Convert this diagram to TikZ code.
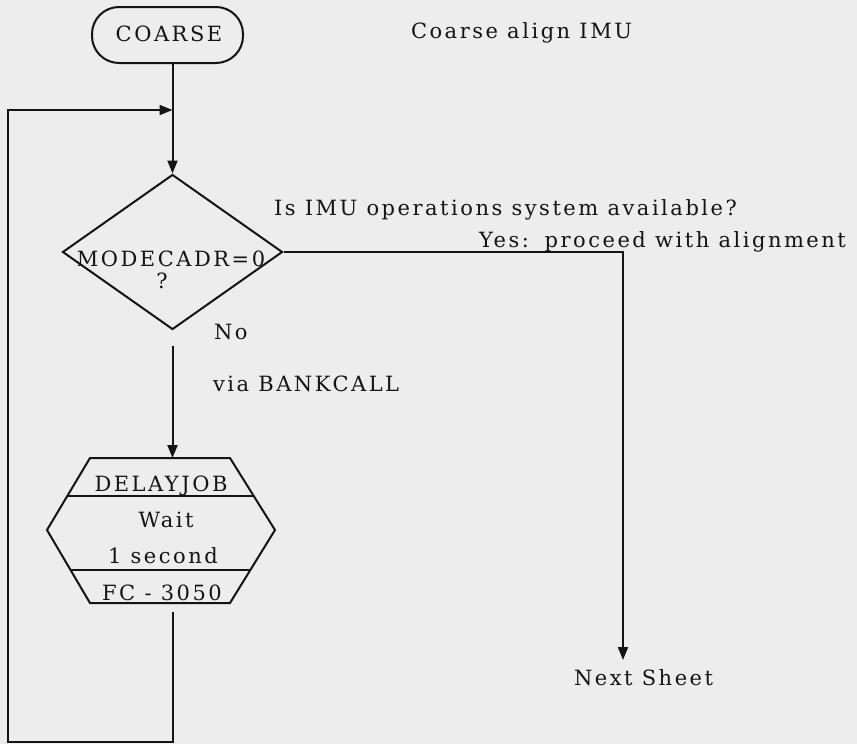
\documentclass[tikz,border=0pt]{standalone}
\usepackage{fontspec}
\setmainfont{DejaVu Serif}[LetterSpace=12]
\usetikzlibrary{arrows.meta,calc,shapes.geometric}
\definecolor{paper}{HTML}{EDEDED}
\definecolor{ink}{HTML}{141414}
\begin{document}
\begin{tikzpicture}[x=1pt,y=-1pt,
  line width=2pt, draw=ink, text=ink,
  arr/.style={-{Triangle[length=13pt,width=10pt]}},
  txt/.style={inner sep=0pt, anchor=base west, font=\fontsize{21}{24}\selectfont},
  ctxt/.style={inner sep=0pt, anchor=base, font=\fontsize{21}{24}\selectfont}]
  % page
  \fill[paper] (0,0) rectangle (857,744);
  \useasboundingbox (0,0) rectangle (857,744);

  % terminal
  \node[draw, rounded corners=27pt, minimum width=151pt, minimum height=56pt,
        inner sep=0pt] (coarse) at (167.5,35) {};
  \node[ctxt] (coarseTxt) at (169,41) {COARSE};
  \node[txt] (title) at (410,38) {Coarse align IMU};

  % decision
  \node[diamond, draw, minimum width=220pt, minimum height=155pt,
        inner sep=0pt] (dec) at (172.5,252) {};
  \node[ctxt] (decA) at (171,266) {MODECADR=0};
  \node[ctxt] (decB) at (162,288) {?};
  \node[txt] (question) at (273,215) {Is IMU operations system available?};
  \node[txt] (yes) at (478,247) {Yes:\, proceed with alignment};
  \node[txt] (no) at (213,339) {No};
  \node[txt] (via) at (212,391) {via BANKCALL};

  % delay job hexagon
  \coordinate (hTL) at (90,458);
  \coordinate (hTR) at (230,458);
  \coordinate (hR)  at (275,530);
  \coordinate (hBR) at (230,603);
  \coordinate (hBL) at (90,603);
  \coordinate (hL)  at (47,530);
  \draw (hTL) -- (hTR) -- (hR) -- (hBR) -- (hBL) -- (hL) -- cycle;
  \draw ($(hTL)!0.528!(hL)$) -- ($(hTR)!0.528!(hR)$);
  \draw ($(hL)!0.548!(hBL)$) -- ($(hR)!0.548!(hBR)$);
  \node[ctxt] (hexA) at (161,491) {DELAYJOB};
  \node[ctxt] (hexB) at (166,527) {Wait};
  \node[ctxt] (hexC) at (163,563) {1 second};
  \node[ctxt] (hexD) at (162,600) {FC - 3050};

  % exit
  \node[txt] (next) at (573,685) {Next Sheet};
  \coordinate (nextIn) at (623,660);

  % loop path
  \coordinate (hexIn)  at (173,458);
  \coordinate (hexOut) at (173,603);
  \coordinate (loopBL) at (8,742);
  \coordinate (loopTL) at (8,110);
  \coordinate (join)   at (172.5,110);

  % connectors
  \draw[arr] (coarse.south -| dec.north) -- (dec.north);
  \draw[arr, shorten <=15pt] (dec.south) -- (dec.south |- hexIn);
  \draw[arr] (dec.east) -- (dec.east -| nextIn) -- (nextIn);
  \draw[arr] ($(hexOut)+(0,9)$) -- (hexOut |- loopBL) -- (loopBL)
        -- (loopTL) -- (join);
\end{tikzpicture}
\end{document}
